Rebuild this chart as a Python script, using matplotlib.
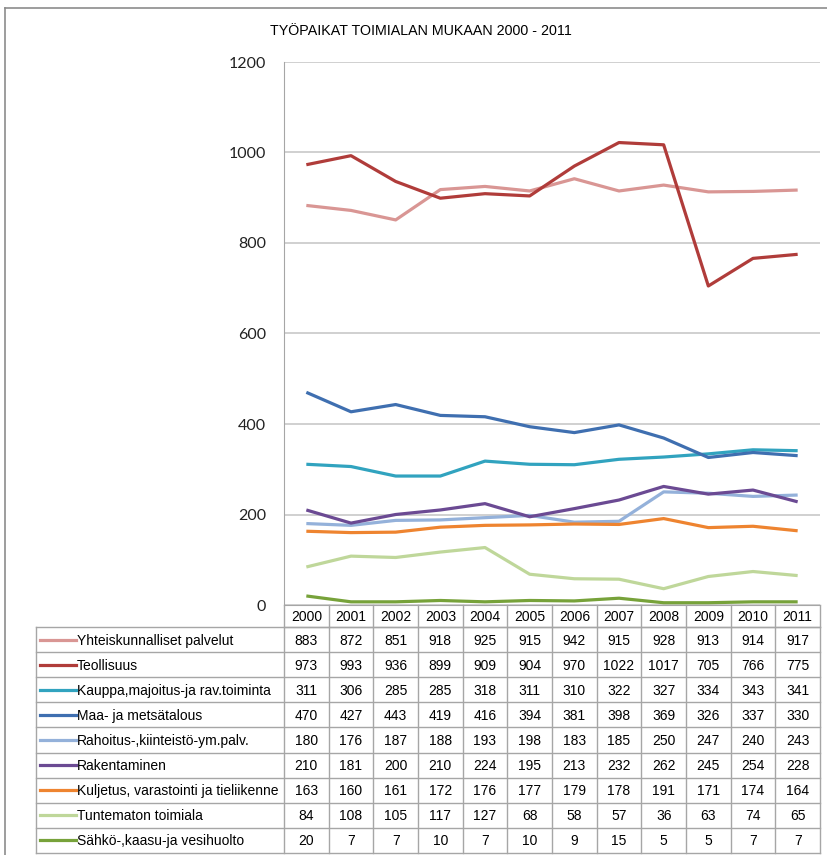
import matplotlib
matplotlib.use('Agg')
import matplotlib.pyplot as plt
from matplotlib.lines import Line2D

# data
years = ['2000', '2001', '2002', '2003', '2004', '2005', '2006', '2007', '2008', '2009', '2010', '2011']
names = [
    'Yhteiskunnalliset palvelut',
    'Teollisuus',
    'Kauppa,majoitus-ja rav.toiminta',
    'Maa- ja metsätalous',
    'Rahoitus-,kiinteistö-ym.palv.',
    'Rakentaminen',
    'Kuljetus, varastointi ja tieliikenne',
    'Tuntematon toimiala',
    'Sähkö-,kaasu-ja vesihuolto',
]
yhteiskunnalliset = [883, 872, 851, 918, 925, 915, 942, 915, 928, 913, 914, 917]
teollisuus = [973, 993, 936, 899, 909, 904, 970, 1022, 1017, 705, 766, 775]
kauppa = [311, 306, 285, 285, 318, 311, 310, 322, 327, 334, 343, 341]
maa = [470, 427, 443, 419, 416, 394, 381, 398, 369, 326, 337, 330]
rahoitus = [180, 176, 187, 188, 193, 198, 183, 185, 250, 247, 240, 243]
rakentaminen = [210, 181, 200, 210, 224, 195, 213, 232, 262, 245, 254, 228]
kuljetus = [163, 160, 161, 172, 176, 177, 179, 178, 191, 171, 174, 164]
tuntematon = [84, 108, 105, 117, 127, 68, 58, 57, 36, 63, 74, 65]
sahko = [20, 7, 7, 10, 7, 10, 9, 15, 5, 5, 7, 7]

series = [yhteiskunnalliset, teollisuus, kauppa, maa, rahoitus,
          rakentaminen, kuljetus, tuntematon, sahko]
colors = ['#D99694', '#B03C3A', '#31A3BF', '#3F6FB0', '#94B1DA',
          '#6B4A93', '#EE8430', '#BFD79A', '#77A23A']

W, H = 827, 855
font = ['Liberation Sans']
fs = 10


def fx(x):
    return x / W


def fy(y):
    return 1 - y / H


fig = plt.figure(figsize=(W / 100, H / 100), dpi=100)

# outer chart frame
fig.add_artist(Line2D([fx(5), fx(5)], [fy(8), fy(855)], color='#8C8C8C', lw=1.2))
fig.add_artist(Line2D([fx(5), fx(827)], [fy(8), fy(8)], color='#8C8C8C', lw=1.2))

fig.text(fx(421), fy(31), 'TYÖPAIKAT TOIMIALAN MUKAAN 2000 - 2011',
         ha='center', va='center', fontsize=10.3, family=font)

# plot area
left, right, top, bottom = 284, 820, 62, 605
ax = fig.add_axes([fx(left), fy(bottom), (right - left) / W, (bottom - top) / H])
x = list(range(len(years)))
for vals, c in zip(series, colors):
    ax.plot(x, vals, color=c, lw=2.3, solid_capstyle='butt', zorder=3)

ax.set_xlim(-0.5, len(years) - 0.5)
ax.set_ylim(0, 1200)
ax.set_yticks(range(0, 1201, 200))
ax.set_xticks([])
ax.grid(axis='y', color='#C8C8C8', lw=1.2)
ax.set_axisbelow(True)
for s in ['top', 'right']:
    ax.spines[s].set_visible(False)
ax.spines['left'].set_color('#A6A6A6')
ax.spines['bottom'].set_color('#A6A6A6')
ax.tick_params(axis='y', length=0, pad=13, labelsize=11.5, labelcolor='#222222')
for lab in ax.get_yticklabels():
    lab.set_family(['Lato', 'DejaVu Sans'])

# data table below the plot
colw = (right - left) / len(years)
head_top, head_bot = 605, 627
row_h = (853 - head_bot) / len(names)
tab_left = 36
gc = '#A6A6A6'


def hline(x0, x1, y):
    fig.add_artist(Line2D([fx(x0), fx(x1)], [fy(y), fy(y)], color=gc, lw=1))


def vline(x0, y0, y1):
    fig.add_artist(Line2D([fx(x0), fx(x0)], [fy(y0), fy(y1)], color=gc, lw=1))


hline(left, right, head_bot)
for i in range(len(names) + 1):
    hline(tab_left, right, head_bot + i * row_h)
vline(tab_left, head_bot, 853)
for j in range(len(years) + 1):
    vline(left + j * colw, head_top, 853)

for j, yr in enumerate(years):
    fig.text(fx(left + (j + 0.5) * colw), fy((head_top + head_bot) / 2 + 1), yr,
             ha='center', va='center', fontsize=fs, family=font)

for i, (name, vals, c) in enumerate(zip(names, series, colors)):
    yc = head_bot + (i + 0.5) * row_h
    fig.add_artist(Line2D([fx(40), fx(76)], [fy(yc), fy(yc)], color=c, lw=2.3))
    fig.text(fx(77), fy(yc + 1), name, ha='left', va='center', fontsize=fs, family=font)
    for j, v in enumerate(vals):
        fig.text(fx(left + (j + 0.5) * colw), fy(yc + 1), str(v),
                 ha='center', va='center', fontsize=fs, family=font)

plt.savefig('out.png', dpi=100, facecolor='white')
